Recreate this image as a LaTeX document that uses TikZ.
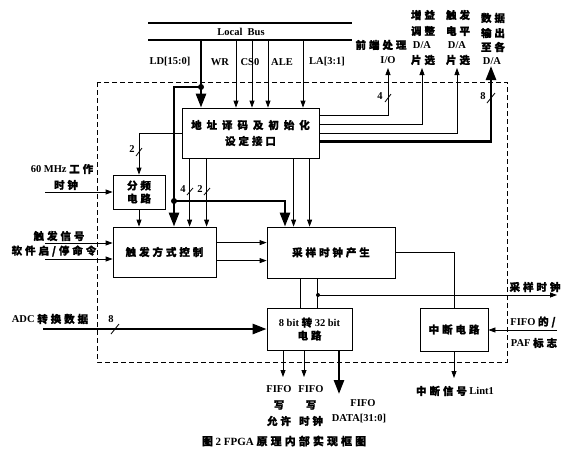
\documentclass[tikz,border=0pt]{standalone}
\usepackage{fontspec}
\setmainfont{Liberation Serif}
\newfontfamily\cjk[LetterSpace=28,FakeBold=1.2]{Noto Sans CJK SC}
\newfontfamily\cjkw[LetterSpace=47,FakeBold=1.2]{Noto Sans CJK SC}
\usetikzlibrary{arrows.meta,calc}
\begin{document}
\begin{tikzpicture}[x=1pt,y=-1pt,
  font=\fontsize{10.5}{12}\selectfont\bfseries,
  box/.style={draw, line width=0.8pt, align=center, inner sep=0pt},
  ln/.style={line width=0.8pt},
  bold/.style={line width=2.6pt, line join=miter},
  arr/.style={ln, -{Triangle[length=7pt,width=5pt]}},
  barr/.style={bold, -{Triangle[length=14pt,width=10pt]}},
  lbl/.style={inner sep=1pt, align=center},
  dot/.style={circle, fill, inner sep=0pt, minimum size=6pt},
  sdot/.style={circle, fill, inner sep=0pt, minimum size=4pt},
  slash/.style={line width=0.8pt},
  frame/.style={line width=0.8pt, dash pattern=on 5pt off 3pt}]
\useasboundingbox[fill=white] (0,0) rectangle (574,456);

% outer dashed frame
\draw[frame] (97,82) rectangle (507,362);

% boxes
\node[box, minimum width=137pt, minimum height=50pt] (addr) at (250.5,133)
  {{\cjkw 地址译码及初始化}\\[4pt]{\cjk 设定接口}};
\node[box, minimum width=52pt, minimum height=34pt] (div) at (139,192)
  {{\cjk 分频}\\[1pt]{\cjk 电路}};
\node[box, minimum width=103pt, minimum height=50pt] (trig) at (164.5,252)
  {\cjk 触发方式控制};
\node[box, minimum width=128pt, minimum height=51pt] (samp) at (331,252.5)
  {\cjk 采样时钟产生};
\node[box, minimum width=85pt, minimum height=42pt] (conv) at (309.5,329)
  {8 bit {\cjk 转} 32 bit\\[1pt]{\cjk 电路}};
\node[box, minimum width=68pt, minimum height=43pt] (intr) at (454,329.5)
  {\cjk 中断电路};

% local bus
\coordinate (busTL) at (148,23); \coordinate (busTR) at (352,23);
\coordinate (busL) at (148,40);  \coordinate (busR) at (352,40);
\draw[line width=1.3pt] (busTL) -- (busTR);
\draw[line width=1.3pt] (busL) -- (busR);
\node[lbl] (lbus) at (241,32) {Local\ \ Bus};

\coordinate (ld) at (201,40);
\coordinate (wr) at (236,40);
\coordinate (cs) at (252,40);
\coordinate (ale) at (268,40);
\coordinate (la) at (303,40);
\draw[barr] (ld) -- (ld |- addr.north);
\draw[arr] (wr) -- (wr |- addr.north);
\draw[arr] (cs) -- (cs |- addr.north);
\draw[arr] (ale) -- (ale |- addr.north);
\draw[arr] (la) -- (la |- addr.north);
\node[lbl] (lld) at (170,62) {LD[15:0]};
\node[lbl] (lwr) at (220,62) {WR};
\node[lbl] (lcs) at (250,62) {CS0};
\node[lbl] (lale) at (282,62) {ALE};
\node[lbl] (lla) at (327,62) {LA[3:1]};

% LD distribution
\node[dot] (j1) at (201,87) {};
\coordinate (c1) at (174,87);
\node[dot] (j2) at (174,201) {};
\coordinate (c2) at (285,201);
\draw[bold] (j1.center) -- (c1) -- (j2.center);
\draw[barr] (j2.center) -- (j2 |- trig.north);
\draw[barr] (j2.center) -- (c2) -- (c2 |- samp.north);

% addr -> div
\draw[arr] (addr.west) -| (div.north);
\draw[slash] (136,156) -- (142,148);
\node[lbl] (n2a) at (132,149) {2};

% addr bottom
\coordinate (a4) at ($(addr.south west)+(8,0)$);
\coordinate (a2) at ($(addr.south west)+(25,0)$);
\coordinate (a5) at ($(addr.south west)+(112,0)$);
\coordinate (a6) at ($(addr.south west)+(128,0)$);
\draw[arr] (a4) -- (a4 |- trig.north);
\draw[arr] (a2) -- (a2 |- trig.north);
\draw[arr] (a5) -- (a5 |- samp.north);
\draw[arr] (a6) -- (a6 |- samp.north);
\draw[slash] (187,195) -- (193,188);
\draw[slash] (204,195) -- (210,188);
\node[lbl] (n4b) at (183,189) {4};
\node[lbl] (n2b) at (200,189) {2};

% addr right outputs
\coordinate (r1) at ($(addr.north east)+(0,8)$);
\coordinate (r2) at ($(addr.north east)+(0,17)$);
\coordinate (r3) at ($(addr.north east)+(0,26)$);
\coordinate (r4) at ($(addr.north east)+(0,34)$);
\coordinate (io) at (388,68);
\coordinate (gda) at (422,68);
\coordinate (tda) at (457,68);
\coordinate (dda) at (491,66);
\draw[arr] (r1) -| (io);
\draw[arr] (r2) -| (gda);
\draw[arr] (r3) -| (tda);
\draw[barr] (r4) -| (dda);
\draw[slash] (385,102) -- (391,94);
\node[lbl] (n4c) at (380,96) {4};
\draw[slash] (487,103) -- (495,93);
\node[lbl] (n8c) at (483,96) {8};

\node[lbl] (tio1) at (381,45) {\cjk 前端处理};
\node[lbl] (tio2) at (388,60) {I/O};
\node[lbl] (tg1) at (423,15) {\cjk 增益};
\node[lbl] (tg2) at (423,31) {\cjk 调整};
\node[lbl] (tg3) at (422,45) {D/A};
\node[lbl] (tg4) at (423,60) {\cjk 片选};
\node[lbl] (tt1) at (458,15) {\cjk 触发};
\node[lbl] (tt2) at (458,31) {\cjk 电平};
\node[lbl] (tt3) at (457,45) {D/A};
\node[lbl] (tt4) at (458,60) {\cjk 片选};
\node[lbl] (td1) at (493,18) {\cjk 数据};
\node[lbl] (td2) at (493,33) {\cjk 输出};
\node[lbl] (td3) at (493,47) {\cjk 至各};
\node[lbl] (td4) at (492,61) {D/A};

% clock input
\coordinate (clkin) at (45,192);
\draw[arr] (clkin) -- (div.west);
\node[lbl] (tclk1) at (62,169) {60 MHz {\cjk 工作}};
\node[lbl] (tclk2) at (66,185) {\cjk 时钟};
\draw[arr] (div.south) -- (div.south |- trig.north);

% trigger inputs
\coordinate (tin1) at (45,243);
\coordinate (tin2) at (45,259);
\draw[arr] (tin1) -- (tin1 -| trig.west);
\draw[arr] (tin2) -- (tin2 -| trig.west);
\node[lbl] (ttr1) at (59,236) {\cjk 触发信号};
\node[lbl] (ttr2) at (54,251) {\cjk 软件启/停命令};

% trig -> samp
\coordinate (o1) at ($(trig.north east)+(0,16)$);
\coordinate (o2) at ($(trig.north east)+(0,34)$);
\draw[arr] (o1) -- (o1 -| samp.west);
\draw[arr] (o2) -- (o2 -| samp.west);

% samp -> intr, samp -> conv
\coordinate (s1) at ($(samp.north east)+(0,26)$);
\draw[ln] (s1) -| (intr.north);
\coordinate (s2) at ($(samp.south west)+(34,0)$);
\coordinate (s3) at ($(samp.south west)+(51,0)$);
\draw[ln] (s2) -- (s2 |- conv.north);
\draw[ln] (s3) -- (s3 |- conv.north);
\node[sdot] (j3) at (318,295) {};
\coordinate (sclk) at (557,295);
\draw[arr] (j3.center) -- (sclk);
\node[lbl] (tsclk) at (535,287) {\cjk 采样时钟};

% ADC input
\coordinate (adc) at (43,329);
\draw[barr] (adc) -- (adc -| conv.west);
\draw[slash] (111,334) -- (119,324);
\node[lbl] (n8a) at (111,319) {8};
\node[lbl] (tadc) at (50,319) {ADC {\cjk 转换数据}};

% PAF input
\coordinate (paf) at (557,330);
\draw[arr] (paf) -- (paf -| intr.east);
\node[lbl] (tpaf1) at (533,322) {FIFO {\cjk 的/}};
\node[lbl] (tpaf2) at (534,343) {PAF {\cjk 标志}};

% interrupt output
\coordinate (lint) at (454,378);
\draw[arr] (intr.south) -- (lint);
\node[lbl] (tlint) at (455,391) {{\cjk 中断信号} Lint1};

% conv outputs
\coordinate (we) at (283,377);
\coordinate (wc) at (304,377);
\coordinate (dat) at (339,394);
\draw[arr] (we |- conv.south) -- (we);
\draw[arr] (wc |- conv.south) -- (wc);
\draw[barr] (dat |- conv.south) -- (dat);
\node[lbl] (tw1) at (279,389) {FIFO};
\node[lbl] (tw2) at (279,405) {\cjk 写};
\node[lbl] (tw3) at (279,421) {\cjk 允许};
\node[lbl] (tc1) at (311,389) {FIFO};
\node[lbl] (tc2) at (311,405) {\cjk 写};
\node[lbl] (tc3) at (311,421) {\cjk 时钟};
\node[lbl] (tf1) at (363,403) {FIFO};
\node[lbl] (tf2) at (359,419) {DATA[31:0]};

% caption
\node[lbl, font=\fontsize{11}{12}\selectfont\bfseries] (cap) at (284,441)
  {{\cjk 图} 2 FPGA {\cjk 原理内部实现框图}};
\end{tikzpicture}
\end{document}
